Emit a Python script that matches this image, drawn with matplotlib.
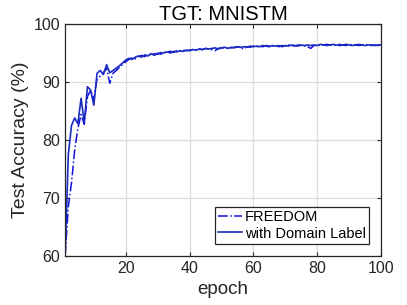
# FREEDOM vs with Domain Label, target MNISTM

import numpy as np
import matplotlib
matplotlib.use("Agg")
import matplotlib.pyplot as plt

plt.rcParams['font.family'] = ['Liberation Sans', 'DejaVu Sans']

# Data
epochs = np.arange(1, 101)

freedom = [
    60.0, 68.5, 72.6, 78.3, 82.0, 84.4, 82.7, 87.5, 88.6, 86.9,
    90.6, 91.0, 91.6, 92.4, 89.8, 91.5, 92.0, 92.5, 93.0, 93.5,
    93.9, 94.2, 94.0, 94.4, 94.6, 94.4, 94.8, 94.7, 94.9, 94.8,
    95.1, 95.0, 95.2, 95.3, 95.1, 95.4, 95.3, 95.5, 95.4, 95.5,
    95.6, 95.5, 95.7, 95.6, 95.8, 95.7, 95.6, 95.4, 95.8, 95.9,
    95.8, 96.0, 95.9, 96.0, 96.1, 95.9, 95.7, 96.1, 96.0, 96.2,
    96.1, 96.2, 96.1, 96.3, 96.2, 96.2, 96.3, 96.1, 96.3, 96.2,
    96.4, 96.3, 96.2, 96.4, 96.3, 96.2, 96.1, 95.8, 96.3, 96.4,
    96.3, 96.4, 96.5, 96.4, 96.3, 96.4, 96.5, 96.4, 96.3, 96.4,
    96.5, 96.4, 96.3, 96.4, 96.5, 96.4, 96.3, 96.4, 96.3, 96.4,
]

domain_label = [
    60.0, 77.5, 82.5, 83.8, 82.8, 87.2, 83.0, 89.2, 88.6, 86.0,
    91.5, 92.0, 91.3, 93.0, 91.6, 92.0, 92.4, 92.8, 93.3, 93.8,
    94.1, 93.9, 94.3, 94.5, 94.3, 94.7, 94.5, 94.9, 94.6, 95.0,
    94.8, 95.1, 95.2, 95.0, 95.3, 95.2, 95.4, 95.3, 95.5, 95.4,
    95.6, 95.5, 95.7, 95.6, 95.8, 95.7, 95.8, 95.9, 95.7, 95.9,
    96.0, 95.8, 96.0, 95.9, 96.1, 96.0, 96.1, 96.0, 96.2, 96.1,
    96.2, 96.1, 96.3, 96.2, 96.1, 96.3, 96.2, 96.3, 96.1, 96.3,
    96.2, 96.4, 96.3, 96.2, 96.4, 96.3, 96.4, 96.3, 96.4, 96.3,
    96.5, 96.4, 96.3, 96.4, 96.5, 96.4, 96.3, 96.4, 96.5, 96.4,
    96.3, 96.4, 96.5, 96.4, 96.3, 96.4, 96.4, 96.3, 96.4, 96.4,
]

xticks = [20, 40, 60, 80, 100]
yticks = [60, 70, 80, 90, 100]

fig = plt.figure(figsize=(4.07, 3.05), dpi=100)
ax = fig.add_axes([0.16, 0.161, 0.776, 0.76])

ax.plot(epochs, freedom, color='#1010e0', linestyle='-.', linewidth=1.1, label='FREEDOM')
ax.plot(epochs, domain_label, color='#1a2bbf', linestyle='-', linewidth=1.2, label='with Domain Label')

ax.set_xlim(1, 100)
ax.set_ylim(60, 100)
ax.set_xticks(xticks)
ax.set_yticks(yticks)
ax.grid(True, color='#dcdcdc', linewidth=0.9)
ax.set_axisbelow(True)
ax.tick_params(direction='in', top=True, right=True, labelsize=11.5, colors='#262626', length=3)
for s in ax.spines.values():
    s.set_color('#262626')
    s.set_linewidth(0.9)

ax.set_xlabel('epoch', fontsize=13.5, color='#262626', labelpad=4)
ax.set_ylabel('Test Accuracy (%)', fontsize=14, color='#262626', labelpad=3)
ax.set_title('TGT: MNISTM', fontsize=14.5, color='#000000', pad=3)

leg = ax.legend(loc='lower right', fontsize=10.5, handlelength=1.6, handletextpad=0.2,
                borderpad=0.25, labelspacing=0.15, fancybox=False, framealpha=1,
                edgecolor='#262626', borderaxespad=0.8)
leg.get_frame().set_linewidth(0.9)

fig.savefig('out.png', dpi=100)
